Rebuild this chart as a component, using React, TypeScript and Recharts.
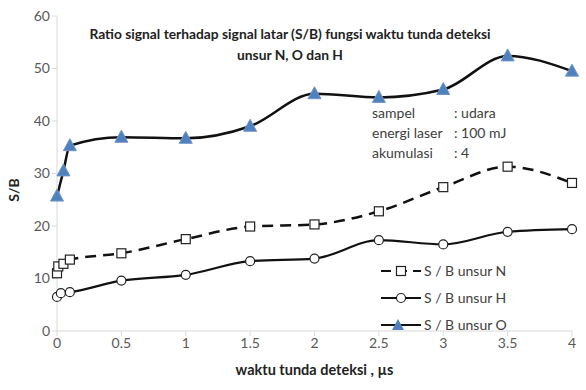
import React from "react";
import { LineChart, Line, XAxis, YAxis } from "recharts";

const xO = [0, 0.05, 0.1, 0.5, 1, 1.5, 2, 2.5, 3, 3.5, 4];
const sbO = [25.7, 30.5, 35.3, 36.9, 36.7, 39.0, 45.2, 44.5, 46.0, 52.4, 49.5];
const xN = [0, 0.01, 0.05, 0.1, 0.5, 1, 1.5, 2, 2.5, 3, 3.5, 4];
const sbN = [11.0, 12.3, 12.8, 13.6, 14.8, 17.5, 19.9, 20.3, 22.8, 27.4, 31.3, 28.2];
const xH = [0, 0.03, 0.1, 0.5, 1, 1.5, 2, 2.5, 3, 3.5, 4];
const sbH = [6.5, 7.2, 7.4, 9.6, 10.7, 13.3, 13.8, 17.3, 16.5, 18.9, 19.4];
const xTicks = [0, 0.5, 1, 1.5, 2, 2.5, 3, 3.5, 4];
const yTicks = [0, 10, 20, 30, 40, 50, 60];

const dataO = xO.map((x, i) => ({ x, v: sbO[i] }));
const dataN = xN.map((x, i) => ({ x, v: sbN[i] }));
const dataH = xH.map((x, i) => ({ x, v: sbH[i] }));

const FONT = "Lato, 'Open Sans', sans-serif";
const BLUE = "#4f81bd";

const Tri = (props: any) => {
  const { cx, cy } = props;
  if (cx == null || cy == null) return null;
  return (
    <polygon
      key={`t${cx}-${cy}`}
      points={`${cx},${cy - 7} ${cx - 6.5},${cy + 5} ${cx + 6.5},${cy + 5}`}
      fill={BLUE}
      stroke="#6f95c8"
      strokeWidth={1}
    />
  );
};
const Sq = (props: any) => {
  const { cx, cy } = props;
  if (cx == null || cy == null) return null;
  return (
    <rect key={`s${cx}-${cy}`} x={cx - 4.5} y={cy - 4.5} width={9} height={9} fill="#fff" stroke="#222" strokeWidth={1.2} />
  );
};
const Circ = (props: any) => {
  const { cx, cy } = props;
  if (cx == null || cy == null) return null;
  return <circle key={`c${cx}-${cy}`} cx={cx} cy={cy} r={4.5} fill="#fff" stroke="#222" strokeWidth={1.2} />;
};

const legendRows = [
  { name: "S / B unsur N", kind: "N" },
  { name: "S / B unsur H", kind: "H" },
  { name: "S / B unsur O", kind: "O" },
];

const LegendIcon = ({ kind }: { kind: string }) => (
  <svg width={42} height={16} style={{ display: "block" }}>
    <line x1={1} y1={8} x2={41} y2={8} stroke="#111" strokeWidth={2.2} strokeDasharray={kind === "N" ? "10 6" : undefined} />
    {kind === "N" && <rect x={16.5} y={3.5} width={9} height={9} fill="#fff" stroke="#222" strokeWidth={1.2} />}
    {kind === "H" && <circle cx={21} cy={8} r={4.5} fill="#fff" stroke="#222" strokeWidth={1.2} />}
    {kind === "O" && <polygon points="18,2 12,13 24,13" fill={BLUE} />}
  </svg>
);

export default function App() {
  return (
    <div style={{ position: "absolute", left: 0, top: 0, width: 586, height: 390, background: "#fff", fontFamily: FONT }}>
      <LineChart width={586} height={390} margin={{ top: 16, right: 14, bottom: 29, left: 0 }}>
        <XAxis
          type="number"
          dataKey="x"
          domain={[0, 4]}
          ticks={xTicks}
          height={30}
          axisLine={{ stroke: "#d9d9d9" }}
          tickLine={{ stroke: "#d9d9d9" }}
          tickSize={5}
          tick={{ fill: "#595959", fontSize: 14, fontFamily: FONT }}
          allowDuplicatedCategory={false}
        />
        <YAxis
          type="number"
          domain={[0, 60]}
          ticks={yTicks}
          width={57}
          axisLine={{ stroke: "#d9d9d9" }}
          tickLine={{ stroke: "#d9d9d9" }}
          tickSize={5}
          tick={{ fill: "#595959", fontSize: 14, fontFamily: FONT }}
        />
        <Line data={dataN} dataKey="v" type="monotone" stroke="#111" strokeWidth={2.5} strokeDasharray="11 7" dot={Sq} isAnimationActive={false} />
        <Line data={dataH} dataKey="v" type="monotone" stroke="#111" strokeWidth={2.2} dot={Circ} isAnimationActive={false} />
        <Line data={dataO} dataKey="v" type="monotone" stroke="#111" strokeWidth={2.5} dot={Tri} isAnimationActive={false} />
      </LineChart>

      <div style={{ position: "absolute", left: 40, width: 500, top: 23, textAlign: "center", fontWeight: 700, fontSize: 13.8, lineHeight: "21px", color: "#222" }}>
        Ratio signal terhadap signal latar (S/B) fungsi waktu tunda deteksi
        <br />
        unsur N, O dan H
      </div>

      <div style={{ position: "absolute", left: 372, top: 103, fontSize: 14, lineHeight: "20px", color: "#404040" }}>
        <div style={{ display: "flex" }}><span style={{ width: 82 }}>sampel</span><span>: udara</span></div>
        <div style={{ display: "flex" }}><span style={{ width: 82 }}>energi laser</span><span>: 100 mJ</span></div>
        <div style={{ display: "flex" }}><span style={{ width: 82 }}>akumulasi</span><span>: 4</span></div>
      </div>

      <div style={{ position: "absolute", left: 380, top: 257, fontSize: 14, color: "#404040" }}>
        {legendRows.map((r) => (
          <div key={r.name} style={{ display: "flex", alignItems: "center", height: 27 }}>
            <LegendIcon kind={r.kind} />
            <span style={{ marginLeft: 2 }}>{r.name}</span>
          </div>
        ))}
      </div>

      <div style={{ position: "absolute", left: 57, width: 515, top: 361, textAlign: "center", fontWeight: 700, fontSize: 14.5, color: "#222" }}>
        waktu tunda deteksi , µs
      </div>

      <div style={{ position: "absolute", left: 13, top: 190, transform: "translate(-50%, -50%) rotate(-90deg)", fontWeight: 700, fontSize: 14, color: "#222", whiteSpace: "nowrap" }}>
        S/B
      </div>
    </div>
  );
}
